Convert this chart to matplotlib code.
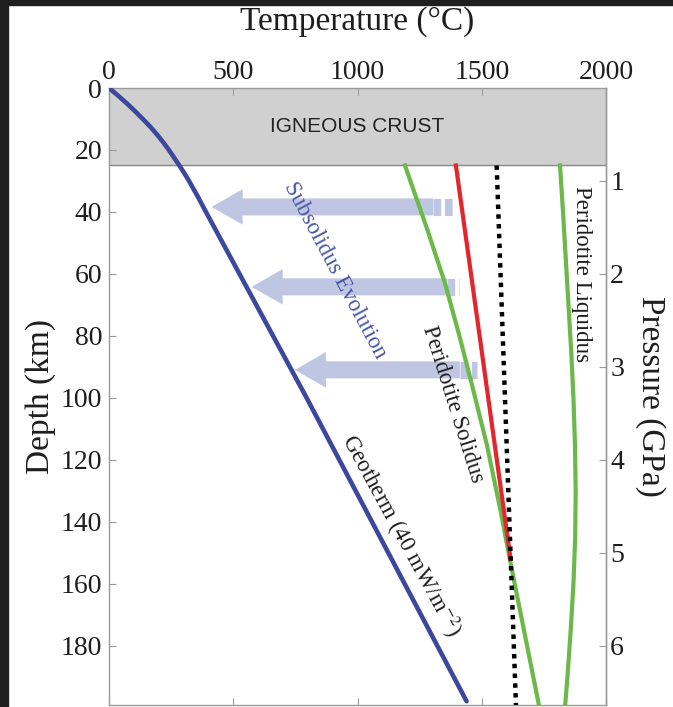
import matplotlib
matplotlib.use("Agg")
import matplotlib.pyplot as plt
from matplotlib.patches import FancyArrow, Rectangle

# ── Data (depth in km, temperature in °C) ───────────────────────────────────
geo_depth = [0, 2.5, 5, 7.5, 10, 12.5, 15, 17.5, 20, 22.5, 25, 27.5, 30, 35, 40, 100, 198]
geo_temp = [0, 37, 72, 105, 136, 166, 193, 218, 241, 262, 283, 303, 322, 357, 390, 795, 1439]

sol_depth = [25, 45, 63, 80, 95, 115, 135, 155, 200]
sol_temp = [1191, 1278, 1352, 1410, 1458, 1520, 1572, 1620, 1732]

red_depth = [25, 152]
red_temp = [1396, 1616]

dot_depth = [25, 200]
dot_temp = [1560, 1638]

liq_depth = [25, 40, 55, 70, 85, 100, 115, 130, 145, 160, 175, 190, 200]
liq_temp = [1815, 1827, 1838, 1849, 1860, 1869, 1875, 1878, 1876, 1869, 1858, 1845, 1835]

crust_base = 25

# subsolidus arrows: depth, tip temperature, end of solid shaft, end of dashed tail
arrow_depth = [38.4, 64.2, 91.0]
arrow_tip = [413, 574, 748]
arrow_solid = [1304, 1360, 1412]
arrow_tail = [1390, 1410, 1480]

depth_ticks = [0, 20, 40, 60, 80, 100, 120, 140, 160, 180]
temp_ticks = [0, 500, 1000, 1500, 2000]
press_ticks = [1, 2, 3, 4, 5, 6]

# ── Style ───────────────────────────────────────────────────────────────────
SERIF = ["Liberation Serif", "DejaVu Serif"]
plt.rcParams.update({
    "font.family": SERIF,
    "mathtext.fontset": "stix",
    "axes.edgecolor": "#9a9a9a",
    "axes.linewidth": 1.0,
})
C_GEO = "#3e479e"
C_GREEN = "#6cb84a"
C_RED = "#e3262c"
C_ARROW = "#bfc6e1"
C_TXT = "#1e1e1e"

fig = plt.figure(figsize=(6.73, 7.07), dpi=100, facecolor="white")
ax = fig.add_axes([109 / 673, 1 - 705 / 707, 497 / 673, 617 / 707])

# dark frame strips of the original screenshot
fig.patches.append(Rectangle((0, 1 - 5 / 707), 1, 5 / 707, transform=fig.transFigure,
                             color="#1f1f1f", zorder=0))
fig.patches.append(Rectangle((0, 0), 8 / 673, 1, transform=fig.transFigure,
                             color="#1f1f1f", zorder=0))

# crust
ax.axhspan(0, crust_base, color="#d0d0d0", zorder=0)
ax.axhline(crust_base, color="#8a8a8a", lw=1.0, zorder=1)
ax.text(1000, crust_base / 2, "IGNEOUS CRUST", family=["Liberation Sans", "DejaVu Sans"],
        fontsize=15, ha="center", va="center", color="#222222")

# arrows
for d, tip, solid, tail in zip(arrow_depth, arrow_tip, arrow_solid, arrow_tail):
    ax.add_patch(FancyArrow(solid, d, tip - solid, 0, width=5.5, head_width=11.5,
                            head_length=125, length_includes_head=True,
                            color=C_ARROW, lw=0, zorder=2))
    ax.plot([solid, tail], [d, d], color=C_ARROW, lw=12.3, solid_capstyle="butt",
            dashes=(0.45, 0.22), dash_capstyle="butt", zorder=2)

# curves
ax.plot(geo_temp, geo_depth, color=C_GEO, lw=3.3, zorder=4, solid_capstyle="round")
ax.plot(sol_temp, sol_depth, color=C_GREEN, lw=3.0, zorder=3)
ax.plot(liq_temp, liq_depth, color=C_GREEN, lw=3.0, zorder=3)
ax.plot(red_temp, red_depth, color=C_RED, lw=3.0, zorder=3)
ax.plot(dot_temp, dot_depth, color="black", lw=3.2, dashes=(1, 1.2),
        dash_capstyle="butt", zorder=5)

# curve labels
ax.text(909, 59, "Subsolidus Evolution", color="#4b55a6", fontsize=16.5,
        rotation=-62, rotation_mode="anchor", ha="center", va="center")
ax.text(1385, 102, "Peridotite Solidus", color=C_TXT, fontsize=16.5,
        rotation=-72.5, rotation_mode="anchor", ha="center", va="center")
ax.text(1902, 60, "Peridotite Liquidus", color=C_TXT, fontsize=16.5,
        rotation=-90, rotation_mode="anchor", ha="center", va="center")
ax.text(1176, 144.5, "Geotherm (40 mW/m$^{-2}$)", color=C_TXT, fontsize=16.5,
        rotation=-61.5, rotation_mode="anchor", ha="center", va="center")

# ── Axes ────────────────────────────────────────────────────────────────────
ax.set_xlim(0, 2000)
ax.set_ylim(199.2, 0)
ax.set_xticks(temp_ticks)
ax.set_yticks(depth_ticks)
ax.xaxis.set_label_position("top")
ax.tick_params(axis="x", top=True, bottom=True, labeltop=True, labelbottom=False,
               direction="in", length=5, color="#9a9a9a", labelsize=20,
               labelcolor=C_TXT, pad=2)
ax.tick_params(axis="y", left=True, right=False, direction="in", length=5,
               color="#9a9a9a", labelsize=20, labelcolor=C_TXT, pad=5)
ax.set_xlabel("Temperature (°C)", fontsize=24, color=C_TXT, labelpad=22)
ax.set_ylabel("Depth (km)", fontsize=24, color=C_TXT, labelpad=3)

sec = ax.secondary_yaxis("right", functions=(lambda d: d / 30.0, lambda p: p * 30.0))
sec.set_yticks(press_ticks)
sec.tick_params(direction="in", length=5, color="#9a9a9a", labelsize=20,
                labelcolor=C_TXT, pad=3)
sec.spines["right"].set_color("#9a9a9a")
sec.set_ylabel("Pressure (GPa)", fontsize=24, color=C_TXT, rotation=270, labelpad=30)

fig.savefig("out.png", dpi=100, facecolor="white")
